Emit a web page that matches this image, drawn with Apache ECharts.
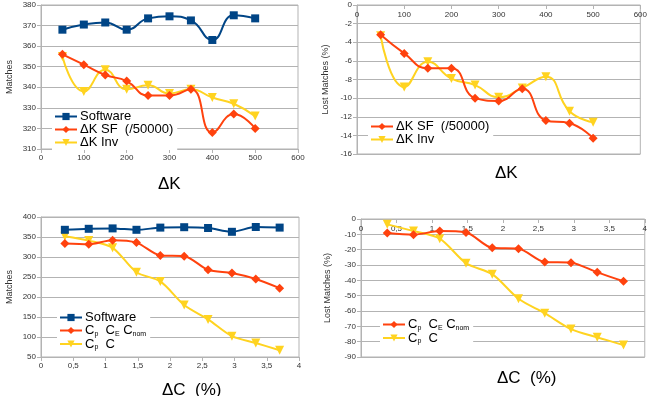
<!DOCTYPE html>
<html><head><meta charset="utf-8">
<script src="https://cdn.jsdelivr.net/npm/echarts@6/dist/echarts.min.js"></script>
<style>html,body{margin:0;padding:0;background:#fff}#c{width:650px;height:396px}</style>
</head><body><div id="c"></div>
<script>
// ---- data ----
const dK = [50, 100, 150, 200, 250, 300, 350, 400, 450, 500];
const software = [368, 370.5, 371.5, 368, 373.5, 374.5, 372.5, 363, 375, 373.5];
const dkSF = [356, 351, 346, 343, 336, 336, 339, 318, 327, 320];
const dkInv = [355, 338, 348.5, 339, 341, 337, 339, 335, 332, 326];
const lostSF = [-3.2, -5.2, -6.8, -6.8, -10, -10.3, -9, -12.4, -12.7, -14.3];
const lostInv = [-3.3, -8.8, -6.1, -7.9, -8.6, -9.9, -8.9, -7.7, -11.4, -12.6];
const dC = [0.37, 0.74, 1.11, 1.48, 1.85, 2.22, 2.59, 2.96, 3.33, 3.7];
const softwareC = [368, 370.5, 371.5, 368, 373.5, 374.5, 372.5, 363, 375, 373.5];
const cpCeCnom = [334, 332, 342, 336, 304, 302, 268, 260, 245, 222];
const cpC = [352, 341, 323, 262, 239, 180, 144, 102, 85, 67];
const lostCpCeCnom = [-9.1, -10.2, -7.9, -8.8, -18.8, -19.4, -28, -28.5, -34.8, -40.6];
const lostCpC = [-3.5, -7.8, -12.8, -28.8, -36, -52, -61.4, -71.8, -77.2, -82.2];

const BLUE = '#004586', RED = '#ff420e', YEL = '#ffd320';
const pairs = (xs, ys) => xs.map((x, i) => [x, ys[i]]);
const FONT = 'Liberation Sans';
const gridC = '#b3b3b3';

function xAx(gi, max, interval, fmt, top) {
  return {
    type: 'value', gridIndex: gi, min: 0, max: max, interval: interval,
    position: top ? 'top' : 'bottom',
    axisLine: { onZero: false, lineStyle: { color: gridC } },
    axisTick: { show: true, inside: !!top, lineStyle: { color: gridC }, length: 4 },
    axisLabel: { fontSize: 8, color: '#333', fontFamily: FONT, margin: top ? 6 : 5, inside: !!top, formatter: fmt },
    splitLine: { show: false }
  };
}
function yAx(gi, min, max, interval, name, gap) {
  return {
    type: 'value', gridIndex: gi, min: min, max: max, interval: interval,
    name: name, nameLocation: 'middle', nameGap: gap, nameRotate: 90,
    nameTextStyle: { fontSize: 9, color: '#333', fontFamily: FONT },
    axisLine: { show: true, lineStyle: { color: gridC } },
    axisTick: { show: true, lineStyle: { color: gridC }, length: 4 },
    axisLabel: { fontSize: 8, color: '#333', fontFamily: FONT, margin: 5 },
    splitLine: { show: true, lineStyle: { color: gridC } }
  };
}
const triDown = 'path://M0,0 L10,0 L5,9 Z';
function ser(name, gi, data, color, symbol, smooth, z) {
  return {
    name: name, type: 'line', xAxisIndex: gi, yAxisIndex: gi, data: data, z: z,
    smooth: smooth, symbol: symbol, symbolSize: symbol === 'rect' ? 8 : 9,
    showAllSymbol: true,
    lineStyle: { color: color, width: 2 },
    itemStyle: { color: color }
  };
}
const decFmt = v => String(v).replace('.', ',');
const rich = { a: { fontSize: 13, fontFamily: FONT, color: '#000' }, s: { fontSize: 7, fontFamily: FONT, color: '#000', verticalAlign: 'bottom', padding: [7, 0, 0, 0] } };
function legendFmt(n) {
  if (n === 'CpCeCnom') return '{a|C}{s|p}{a|  C}{s|E}{a| C}{s|nom}';
  if (n === 'CpC') return '{a|C}{s|p}{a|  C}';
  return '{a|' + n + '}';
}
function leg(names, left, top) {
  return {
    data: names, left: left, top: top, orient: 'vertical', itemGap: 0,
    itemWidth: 22, itemHeight: 9, backgroundColor: '#fff', padding: [1, 4, 1, 2],
    formatter: legendFmt, textStyle: { rich: rich, fontSize: 13, fontFamily: FONT, color: '#000', padding: [0, 0, 0, -2] },
    selectedMode: false
  };
}
function title(text, x, y) {
  return { type: 'text', left: x, top: y, style: { text: text, font: '17px "Liberation Sans"', fill: '#000', textAlign: 'center', textVerticalAlign: 'middle' } };
}

const chart = echarts.init(document.getElementById('c'), null, { renderer: 'canvas' });
chart.setOption({
  animation: false,
  grid: [
    { left: 41, top: 5, width: 257, height: 144, show: true, borderColor: gridC, borderWidth: 1 },
    { left: 357, top: 5, width: 288, height: 149, show: true, borderColor: gridC, borderWidth: 1 },
    { left: 41, top: 217, width: 258, height: 140, show: true, borderColor: gridC, borderWidth: 1 },
    { left: 361, top: 219, width: 287, height: 138, show: true, borderColor: gridC, borderWidth: 1 }
  ],
  xAxis: [ xAx(0, 600, 100), xAx(1, 600, 100, undefined, true), xAx(2, 4, 0.5, decFmt), xAx(3, 4, 0.5, decFmt, true) ],
  yAxis: [ yAx(0, 310, 380, 10, 'Matches', 27), yAx(1, -16, 0, 2, 'Lost Matches (%)', 27),
           yAx(2, 50, 400, 50, 'Matches', 27), yAx(3, -90, 0, 10, 'Lost Matches (%)', 29) ],
  legend: [
    leg(['Software', 'ΔK SF  (/50000)', 'ΔK Inv'], 52, 109),
    leg(['ΔK SF  (/50000)', 'ΔK Inv'], 368, 119),
    leg(['Software', 'CpCeCnom', 'CpC'], 57, 310),
    leg(['CpCeCnom', 'CpC'], 380, 317)
  ],
  series: [
    ser('Software', 0, pairs(dK, software), BLUE, 'rect', 0.5, 3),
    ser('ΔK SF  (/50000)', 0, pairs(dK, dkSF), RED, 'diamond', 0.5, 3),
    ser('ΔK Inv', 0, pairs(dK, dkInv), YEL, triDown, 0.5, 2),
    ser('ΔK SF  (/50000)', 1, pairs(dK, lostSF), RED, 'diamond', 0.5, 3),
    ser('ΔK Inv', 1, pairs(dK, lostInv), YEL, triDown, 0.5, 2),
    ser('Software', 2, pairs(dC, softwareC), BLUE, 'rect', 0.3, 3),
    ser('CpCeCnom', 2, pairs(dC, cpCeCnom), RED, 'diamond', 0.3, 3),
    ser('CpC', 2, pairs(dC, cpC), YEL, triDown, 0.3, 2),
    ser('CpCeCnom', 3, pairs(dC, lostCpCeCnom), RED, 'diamond', 0.3, 3),
    ser('CpC', 3, pairs(dC, lostCpC), YEL, triDown, 0.3, 2)
  ],
  graphic: [
    title('ΔK', 158, 176),
    title('ΔK', 495, 165),
    title('ΔC  (%)', 162, 382),
    title('ΔC  (%)', 497, 370)
  ]
});
</script></body></html>
